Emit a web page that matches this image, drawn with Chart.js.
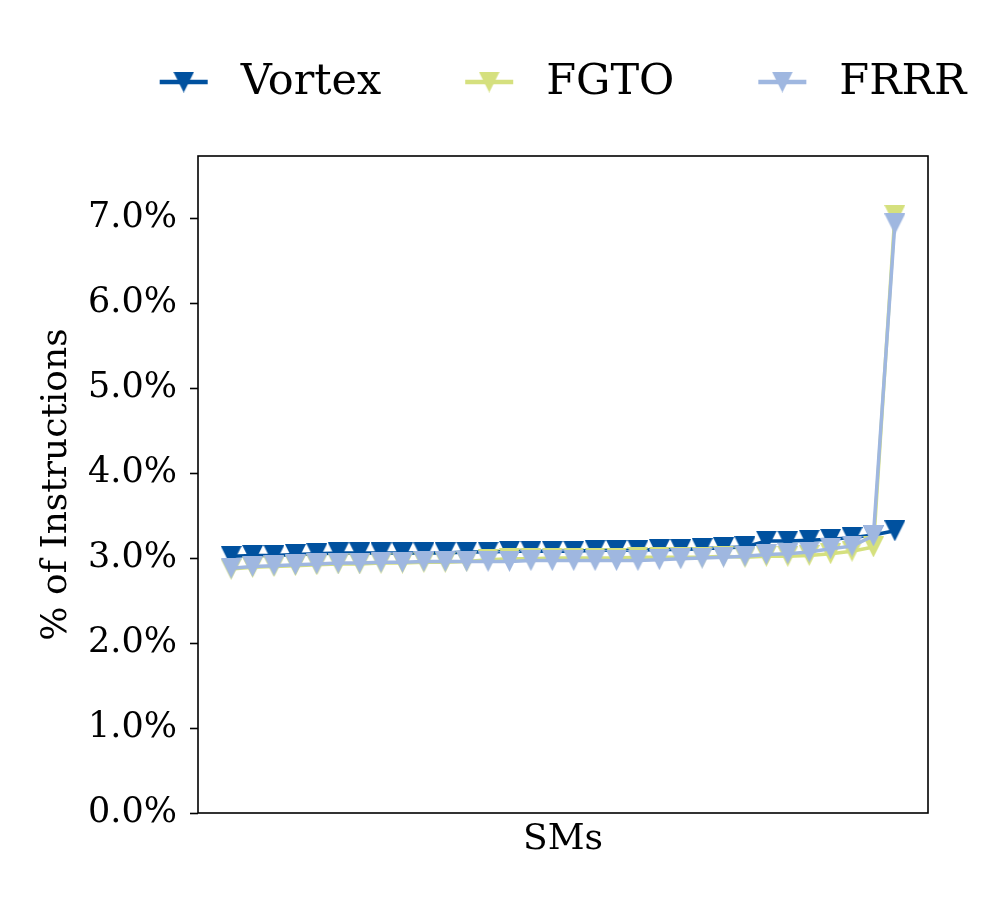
<!DOCTYPE html>
<html>
<head>
<meta charset="utf-8">
<script src="https://cdn.jsdelivr.net/npm/chart.js@4.4.1/dist/chart.umd.min.js"></script>
<style>
    html, body { margin: 0; padding: 0; background: #fff; }
    #wrap { width: 1000px; height: 900px; }
</style>
</head>
<body>
<div id="wrap"><canvas id="smChart" width="1000" height="900"></canvas></div>
<script>
// SM index along the x axis (no tick labels are shown)
const smIds = [0, 1, 2, 3, 4, 5, 6, 7, 8, 9, 10, 11, 12, 13, 14, 15,
               16, 17, 18, 19, 20, 21, 22, 23, 24, 25, 26, 27, 28, 29, 30, 31];

// % of instructions per SM, sorted ascending
const vortexPct = [3.02, 3.03, 3.03, 3.04, 3.05, 3.06, 3.06, 3.06, 3.06, 3.06, 3.06, 3.07,
                   3.07, 3.08, 3.08, 3.08, 3.08, 3.09, 3.09, 3.09, 3.10, 3.10, 3.11, 3.12,
                   3.13, 3.20, 3.20, 3.21, 3.22, 3.24, 3.27, 3.32];
const fgtoPct   = [2.87, 2.89, 2.90, 2.91, 2.92, 2.93, 2.93, 2.94, 2.94, 2.95, 2.95, 2.96,
                   2.98, 2.99, 2.99, 3.00, 3.00, 3.00, 3.00, 3.01, 3.01, 3.01, 3.01, 3.02,
                   3.01, 3.02, 3.02, 3.03, 3.05, 3.08, 3.13, 7.03];
const frrrPct   = [2.88, 2.90, 2.91, 2.92, 2.93, 2.94, 2.94, 2.95, 2.95, 2.96, 2.96, 2.96,
                   2.96, 2.96, 2.97, 2.97, 2.97, 2.97, 2.97, 2.97, 2.98, 2.99, 3.00, 3.01,
                   3.02, 3.04, 3.05, 3.07, 3.11, 3.14, 3.26, 6.93];

const seriesNames = ['Vortex', 'FGTO', 'FRRR'];
const yTicks = [0, 1, 2, 3, 4, 5, 6, 7];

const COLORS = ['#00519f', '#d5e07e', '#9fb7e0'];
const SERIF = "'DejaVu Serif', 'Liberation Serif', serif";

// matplotlib style 'v' marker: square bounding box, centered on the point
function makeMarker(color, size) {
    const c = document.createElement('canvas');
    c.width = size;
    c.height = size;
    const g = c.getContext('2d');
    g.fillStyle = color;
    g.beginPath();
    g.moveTo(0, 0);
    g.lineTo(size, 0);
    g.lineTo(size / 2, size);
    g.closePath();
    g.fill();
    return c;
}

const markers = COLORS.map(col => makeMarker(col, 21));

function toPoints(values) {
    return values.map((v, i) => ({ x: smIds[i], y: v }));
}

// axes box (all four spines)
const frameBox = {
    id: 'frameBox',
    afterDatasetsDraw(chart) {
        const { ctx, chartArea: a } = chart;
        ctx.save();
        ctx.strokeStyle = '#000';
        ctx.lineWidth = 1.6;
        ctx.strokeRect(a.left, a.top, a.right - a.left, a.bottom - a.top);
        ctx.restore();
    }
};

// legend above the plot: line + marker handle, then label
const lineLegend = {
    id: 'lineLegend',
    afterDraw(chart) {
        const { ctx, chartArea: a } = chart;
        const handle = 48, textGap = 33, itemGap = 84, yMid = 82;
        ctx.save();
        ctx.font = '43px ' + SERIF;
        ctx.textBaseline = 'middle';
        const widths = seriesNames.map(n => ctx.measureText(n).width);
        const total = widths.reduce((s, w) => s + handle + textGap + w, 0) + itemGap * (seriesNames.length - 1);
        let x = (a.left + a.right) / 2 - total / 2;
        seriesNames.forEach((name, i) => {
            ctx.strokeStyle = COLORS[i];
            ctx.lineWidth = 4.5;
            ctx.beginPath();
            ctx.moveTo(x, yMid);
            ctx.lineTo(x + handle, yMid);
            ctx.stroke();
            ctx.drawImage(markers[i], x + handle / 2 - 10.5, yMid - 10.5);
            ctx.fillStyle = '#000';
            ctx.fillText(name, x + handle + textGap, yMid + 1);
            x += handle + textGap + widths[i] + itemGap;
        });
        ctx.restore();
    }
};

const ctx = document.getElementById('smChart').getContext('2d');
new Chart(ctx, {
    type: 'line',
    data: {
        datasets: [
            { label: seriesNames[0], data: toPoints(vortexPct), order: 3 },
            { label: seriesNames[1], data: toPoints(fgtoPct), order: 2 },
            { label: seriesNames[2], data: toPoints(frrrPct), order: 1 }
        ].map((ds, i) => Object.assign(ds, {
            borderColor: COLORS[i],
            backgroundColor: COLORS[i],
            borderWidth: 3.5,
            pointStyle: markers[i],
            pointRadius: 10,
            pointHoverRadius: 10,
            tension: 0,
            fill: false
        }))
    },
    options: {
        responsive: false,
        animation: false,
        events: [],
        layout: { padding: { top: 156, right: 72, bottom: 0, left: 0 } },
        plugins: {
            legend: { display: false },
            tooltip: { enabled: false }
        },
        scales: {
            x: {
                type: 'linear',
                min: -1.55,
                max: 32.55,
                ticks: { display: false },
                grid: { display: false },
                border: { display: false },
                title: {
                    display: true,
                    text: 'SMs',
                    color: '#000',
                    font: { family: SERIF, size: 36 },
                    padding: { top: 0, bottom: 38.5 }
                },
                afterFit(scale) { scale.height = 87; }
            },
            y: {
                min: 0,
                max: 7.73,
                afterBuildTicks(scale) { scale.ticks = yTicks.map(v => ({ value: v })); },
                ticks: {
                    color: '#000',
                    padding: 13,
                    font: { family: SERIF, size: 35 },
                    callback: v => v.toFixed(1) + '%'
                },
                grid: {
                    drawOnChartArea: false,
                    drawTicks: true,
                    tickLength: 8,
                    tickWidth: 1.6,
                    tickColor: '#000'
                },
                border: { display: false },
                title: {
                    display: true,
                    text: '% of Instructions',
                    color: '#000',
                    font: { family: SERIF, size: 36 },
                    padding: { top: 35.5, bottom: 0 }
                },
                afterFit(scale) { scale.width = 198; }
            }
        }
    },
    plugins: [frameBox, lineLegend]
});
</script>
</body>
</html>
